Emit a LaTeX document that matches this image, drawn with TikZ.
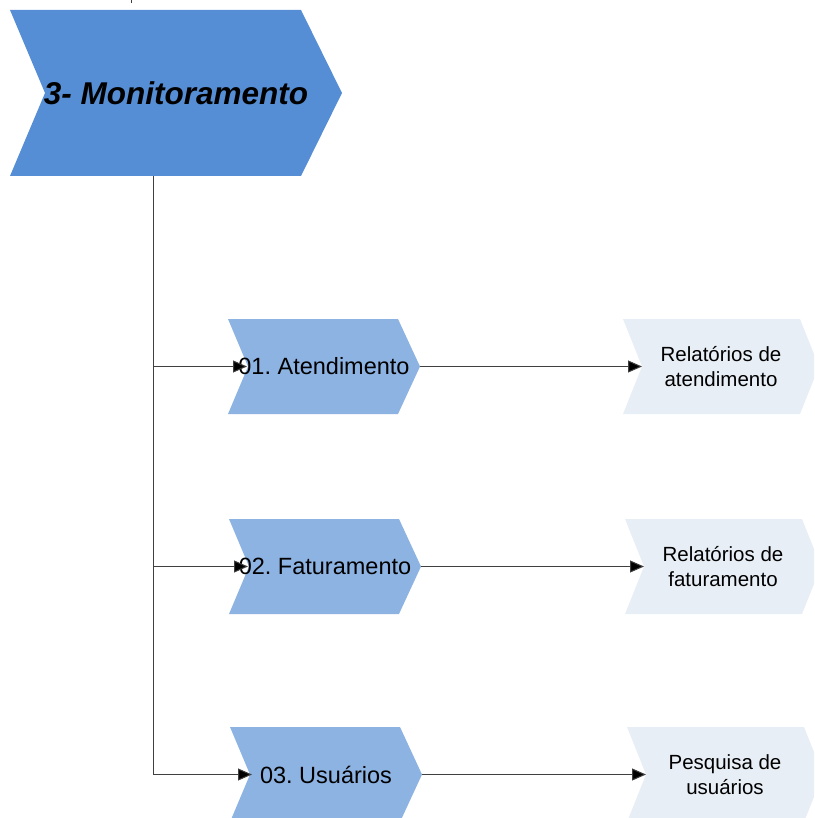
\documentclass[tikz,border=0pt]{standalone}
\usepackage{fontspec}
\setmainfont{Liberation Sans}
\usetikzlibrary{arrows.meta}
\definecolor{cbig}{HTML}{558ED5}
\definecolor{cmid}{HTML}{8DB3E2}
\definecolor{clight}{HTML}{E8EEF6}
\definecolor{cline}{HTML}{404040}
\frenchspacing
\tikzset{
  chev/.style args={#1/#2/#3}{rectangle, inner sep=0pt, outer sep=0pt,
    path picture={\fill[#1] (path picture bounding box.north west)
      -- ([xshift=-#2]path picture bounding box.north east)
      -- (path picture bounding box.east)
      -- ([xshift=-#2]path picture bounding box.south east)
      -- (path picture bounding box.south west)
      -- ([xshift=#3]path picture bounding box.west) -- cycle;}},
  bigchev/.style={chev={cbig/41pt/35pt}, minimum width=332pt, minimum height=166pt,
    font=\fontsize{31.5}{36}\selectfont\bfseries\itshape},
  midchev/.style={chev={cmid/22pt/20pt}, minimum width=192pt, minimum height=95pt,
    font=\fontsize{23.5}{28}\selectfont},
  lightchev/.style={chev={clight/19pt/19pt}, minimum width=196pt, minimum height=95pt,
    align=center, font=\fontsize{20.5}{24.5}\selectfont},
  conn/.style={draw=cline, line width=1pt},
  arr/.style={conn, -{Triangle[length=14pt,width=12pt,fill=black]}}
}
\begin{document}
\begin{tikzpicture}[x=1pt,y=-1pt]
\useasboundingbox (0,0) rectangle (814,818);
\begin{scope}
\clip (0,0) rectangle (814,818);
\node[bigchev] (m) at (176,93) {3- Monitoramento};
\node[midchev] (a1) at (324,366.5) {01. Atendimento};
\node[midchev] (a2) at (325,566.5) {02. Faturamento};
\node[midchev] (a3) at (326,774.5) {03. Usuários};
\node[lightchev] (r1) at (721,366.5) {Relatórios de\\atendimento};
\node[lightchev] (r2) at (723,566.5) {Relatórios de\\faturamento};
\node[lightchev] (r3) at (725,774.5) {Pesquisa de\\usuários};
\coordinate (top) at (131,0);
\coordinate (v) at (153,176);
\draw[conn] (top) -- ++(0,3);
\draw[arr] (v) |- ([xshift=22pt]a3.west);
\draw[arr] (v |- a1.west) -- ([xshift=19pt]a1.west);
\draw[arr] (v |- a2.west) -- ([xshift=19pt]a2.west);
\draw[arr] (a1.east) -- ([xshift=19pt]r1.west);
\draw[arr] (a2.east) -- ([xshift=19pt]r2.west);
\draw[arr] (a3.east) -- ([xshift=19pt]r3.west);
\end{scope}
\end{tikzpicture}
\end{document}
